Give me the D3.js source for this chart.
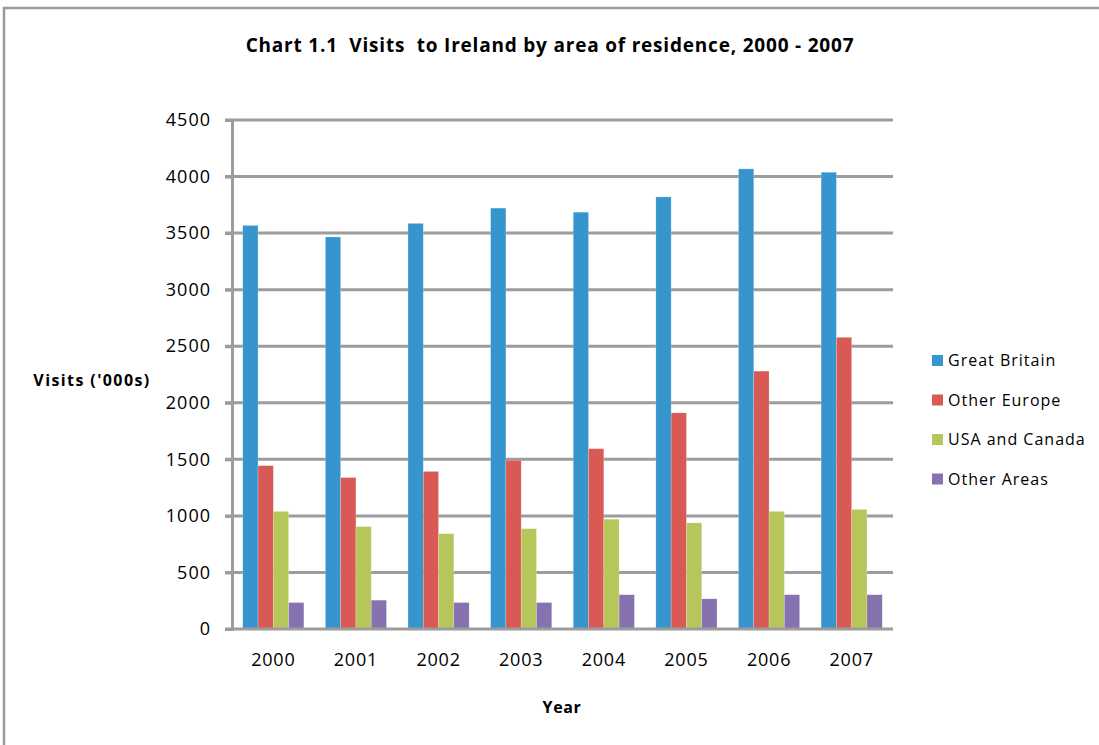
<!DOCTYPE html>
<html>
<head>
<meta charset="utf-8">
<script src="https://cdn.jsdelivr.net/npm/d3@7"></script>
<style>
  body { margin: 0; background: #fff; }
  text { font-family: "Open Sans", sans-serif; fill: #000; white-space: pre; }
</style>
</head>
<body>
<div id="chart"></div>
<script>
// data ('000 visits)
var years = ["2000", "2001", "2002", "2003", "2004", "2005", "2006", "2007"];
var seriesNames = ["Great Britain", "Other Europe", "USA and Canada", "Other Areas"];
var greatBritain = [3568, 3466, 3586, 3721, 3685, 3820, 4068, 4038];
var otherEurope = [1444, 1339, 1393, 1492, 1594, 1911, 2280, 2579];
var usaCanada = [1040, 905, 842, 887, 971, 938, 1040, 1057];
var otherAreas = [234, 255, 234, 234, 303, 267, 303, 303];
var yTicks = [0, 500, 1000, 1500, 2000, 2500, 3000, 3500, 4000, 4500];

var colors = ["#3795cd", "#d95a54", "#b7c65b", "#8672ae"];
var allSeries = [greatBritain, otherEurope, usaCanada, otherAreas];

var width = 1099, height = 745;
var margin = { left: 232, right: 206, top: 120, bottom: 116 };
var plotW = width - margin.left - margin.right;
var plotH = height - margin.top - margin.bottom;

var svg = d3.select("#chart").append("svg")
  .attr("width", width)
  .attr("height", height);

// outer frame of the chart
svg.append("path")
  .attr("d", "M4,746 V8 H1100")
  .attr("fill", "none")
  .attr("stroke", "#9a9a9a")
  .attr("stroke-width", 2.5);

var g = svg.append("g")
  .attr("transform", "translate(" + margin.left + "," + margin.top + ")");

var x0 = d3.scaleBand().domain(years).range([0, plotW]).paddingInner(0.26).paddingOuter(0.13);
var x1 = d3.scaleBand().domain(seriesNames).range([0, x0.bandwidth()]);
var y = d3.scaleLinear().domain([0, 4500]).range([plotH, 0]);

// gridlines
g.selectAll(".grid")
  .data(yTicks.slice(1))
  .enter().append("line")
  .attr("x1", -7)
  .attr("x2", plotW)
  .attr("y1", function(d) { return y(d); })
  .attr("y2", function(d) { return y(d); })
  .attr("stroke", "#9c9c9c")
  .attr("stroke-width", 3);

// bars
var rows = years.map(function(yr, i) {
  return { year: yr, values: allSeries.map(function(s, j) { return { name: seriesNames[j], value: s[i], color: colors[j] }; }) };
});

g.selectAll(".group")
  .data(rows)
  .enter().append("g")
  .attr("transform", function(d) { return "translate(" + x0(d.year) + ",0)"; })
  .selectAll("rect")
  .data(function(d) { return d.values; })
  .enter().append("rect")
  .attr("x", function(d) { return x1(d.name); })
  .attr("width", x1.bandwidth())
  .attr("y", function(d) { return y(d.value); })
  .attr("height", function(d) { return plotH - y(d.value); })
  .attr("fill", function(d) { return d.color; })
  .attr("stroke", "#fff")
  .attr("stroke-opacity", 0.35)
  .attr("stroke-width", 0.6);

// y axis
var yAxis = g.append("g")
  .call(d3.axisLeft(y).tickValues(yTicks).tickFormat(d3.format("d")).tickSize(7).tickPadding(14));
yAxis.select(".domain").attr("stroke", "#9c9c9c").attr("stroke-width", 3);
yAxis.selectAll(".tick line").attr("stroke", "#9c9c9c").attr("stroke-width", 3);
yAxis.selectAll(".tick text")
  .style("font-size", "18px")
  .style("font-family", "'Open Sans', sans-serif")
  .style("letter-spacing", "1px")
  .attr("fill", "#000");

// x axis
var xAxis = g.append("g")
  .attr("transform", "translate(0," + plotH + ")")
  .call(d3.axisBottom(x0).tickSize(0).tickPadding(24));
xAxis.select(".domain").attr("stroke", "#9c9c9c").attr("stroke-width", 3)
  .attr("d", "M-7,0H" + plotW);
xAxis.selectAll(".tick text")
  .style("font-size", "18px")
  .style("font-family", "'Open Sans', sans-serif")
  .style("letter-spacing", "0.8px")
  .attr("fill", "#000");

// titles
svg.append("text")
  .attr("x", 550)
  .attr("y", 52)
  .attr("text-anchor", "middle")
  .style("font-size", "19px")
  .style("font-weight", "bold")
  .style("letter-spacing", "0.8px")
  .text("Chart 1.1  Visits  to Ireland by area of residence, 2000 - 2007");

svg.append("text")
  .attr("x", 92)
  .attr("y", 386)
  .attr("text-anchor", "middle")
  .style("font-size", "16px")
  .style("font-weight", "bold")
  .style("letter-spacing", "1.4px")
  .text("Visits ('000s)");

svg.append("text")
  .attr("x", 562)
  .attr("y", 713)
  .attr("text-anchor", "middle")
  .style("font-size", "16px")
  .style("font-weight", "bold")
  .style("letter-spacing", "0.6px")
  .text("Year");

// legend
var legend = svg.append("g").attr("transform", "translate(932,360)");
var items = legend.selectAll(".item")
  .data(seriesNames)
  .enter().append("g")
  .attr("transform", function(d, i) { return "translate(0," + (i * 39.5) + ")"; });
items.append("rect")
  .attr("x", 0).attr("y", -5)
  .attr("width", 11).attr("height", 11)
  .attr("fill", function(d, i) { return colors[i]; });
items.append("text")
  .attr("x", 16)
  .attr("y", 6)
  .style("font-size", "16px")
  .style("letter-spacing", "1px")
  .text(function(d) { return d; });
</script>
</body>
</html>
